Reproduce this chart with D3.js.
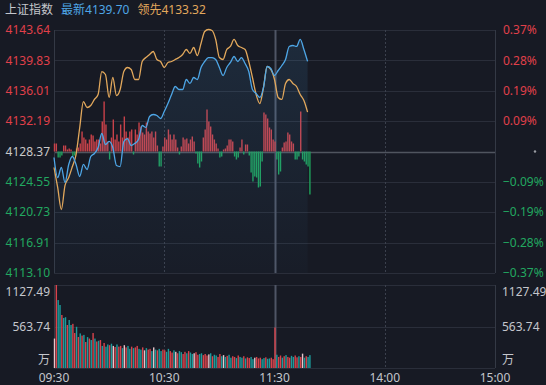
<!DOCTYPE html>
<html>
<head>
<meta charset="utf-8">
<script src="https://cdn.jsdelivr.net/npm/d3@7"></script>
<style>
    html, body { margin: 0; padding: 0; background: #171a24; }
    svg { display: block; font-family: "Noto Sans", "Noto Sans CJK SC", sans-serif; }
</style>
</head>
<body>
<div id="chart"></div>
<script>
// DATA
const basePrice = 4128.37;
const priceTicks = [4143.64, 4139.83, 4136.01, 4132.19, 4128.37, 4124.55, 4120.73, 4116.91, 4113.10];
const volTicks = [1127.49, 563.74];
const timeTicks = [[0, "09:30"], [60, "10:30"], [120, "11:30"], [180, "14:00"], [240, "15:00"]];

// 2분 간격 (09:30 부터)
const latestPrice = [
    4127.62, 4125.10, 4126.36, 4124.47, 4126.74, 4127.74, 4126.74, 4125.23, 4126.74, 4126.11,
    4127.74, 4128.12, 4128.87, 4130.63, 4129.25, 4129.63, 4128.87, 4126.61, 4126.48, 4129.63,
    4130.00, 4129.12, 4129.38, 4129.88, 4131.64, 4131.39, 4132.77, 4133.02, 4132.89, 4132.52,
    4133.40, 4134.40, 4135.53, 4136.54, 4136.16, 4136.16, 4137.42, 4136.92, 4137.67, 4137.42,
    4138.93, 4139.68, 4140.18, 4140.18, 4139.93, 4138.93, 4137.92, 4138.93, 4139.56, 4140.31,
    4139.68, 4140.18, 4139.43, 4138.42, 4136.16, 4135.66, 4135.16, 4136.41, 4139.05, 4138.80,
    4137.92, 4138.55, 4139.18, 4139.93, 4141.57, 4141.69, 4141.57, 4142.45, 4141.19, 4139.70
];
const leadPrice = [
    4126.36, 4123.85, 4121.08, 4124.10, 4125.10, 4126.48, 4127.99, 4131.39, 4134.65, 4133.90,
    4134.15, 4134.91, 4135.53, 4138.42, 4138.05, 4135.16, 4137.67, 4135.41, 4136.16, 4138.42,
    4138.93, 4138.68, 4137.42, 4137.42, 4139.68, 4140.18, 4140.56, 4140.94, 4139.93, 4139.68,
    4138.93, 4139.56, 4139.68, 4139.93, 4140.18, 4140.56, 4141.19, 4140.69, 4141.44, 4140.43,
    4141.94, 4143.45, 4143.70, 4143.58, 4142.45, 4140.18, 4139.93, 4141.19, 4141.57, 4142.45,
    4141.69, 4141.44, 4141.19, 4139.68, 4137.67, 4135.53, 4134.40, 4136.41, 4139.05, 4138.68,
    4137.42, 4135.16, 4134.91, 4136.92, 4137.42, 4136.92, 4136.54, 4135.53, 4134.78, 4133.32
];

// 1분 간격
const strength = [
    8, 8, -6, -6, -4, 6, 6, 2, 3, 2, -5, -4, 3, 4, 8, 20, 14, 12, 8, 12,
    17, 16, 10, 12, 12, 8, 30, 50, 27, 10, -8, 14, 32, 12, 17, 10, 27, 14, 35, 20,
    14, 20, 22, -3, 22, 17, 29, 25, 19, 17, 29, 20, 18, 20, 14, 20, 6, -15, -15, 5,
    14, 12, 22, 17, 12, 17, 12, 4, -3, 5, 14, 12, 13, 8, 12, 15, 10, -2, -12, -16,
    -10, 14, 22, 42, 30, 25, 17, 12, 8, 3, -6, -5, 2, 3, 6, 12, 12, 10, -5, -8,
    -6, 4, 12, -3, 7, 7, -4, -21, -30, -25, -26, -36, -35, -10, 39, 37, 33, 24, 22, 12,
    10, -8, -23, -20, 4, 9, 10, 19, 17, 10, 8, -8, -8, -5, 40, -8, -10, -13, -15, -43
];
const volume = [
    400, 1127.49, 923, 856, 720, 680, 690, 584, 652, 584, 600, 475, 560, 421, 470, 440, 450, 353, 420, 400,
    380, 475, 400, 360, 370, 380, 300, 340, 290, 320, 310, 330, 300, 285, 320, 290, 300, 270, 310, 280,
    300, 260, 290, 270, 280, 300, 260, 250, 280, 240, 270, 250, 260, 230, 280, 250, 240, 260, 230, 250,
    240, 220, 260, 230, 210, 240, 220, 200, 230, 215, 190, 220, 200, 230, 210, 190, 200, 215, 180, 190,
    200, 175, 190, 170, 185, 200, 160, 180, 170, 150, 190, 160, 175, 150, 165, 180, 140, 160, 150, 135,
    170, 150, 140, 160, 130, 145, 135, 150, 120, 140, 150, 130, 140, 120, 135, 145, 125, 130, 140, 120,
    550, 180, 150, 170, 140, 160, 175, 150, 140, 165, 150, 170, 145, 160, 150, 195, 140, 160, 150, 175
];
const volumeDir = [
    0, 1, -1, -1, 1, -1, -1, 1, -1, -1, 1, 1, -1, 1, -1, 1, -1, 1, -1, 1,
    -1, 1, -1, 1, -1, 1, -1, 1, -1, -1, 1, -1, 0, 1, -1, 1, 1, -1, 0, 1,
    -1, -1, 1, -1, 1, 1, -1, -1, 1, 0, -1, 1, 1, -1, 0, -1, 1, -1, -1, 1,
    1, -1, -1, 1, 1, -1, 0, 1, -1, -1, 1, 1, -1, 1, -1, -1, 0, 1, 1, -1,
    -1, 1, 1, 1, 0, -1, 1, -1, -1, 1, 1, -1, 0, -1, 1, -1, -1, 1, 1, -1,
    1, -1, -1, 1, -1, 1, 1, -1, -1, 0, 1, 1, 1, -1, -1, 1, -1, -1, 1, 1,
    1, -1, 1, 1, -1, 1, -1, 1, 1, -1, -1, 1, 1, -1, 1, 0, -1, 1, -1, -1
];

// LAYOUT
const width = 546;
const height = 385;
const plot = { left: 54, right: 495, top: 30, bottom: 273 };
const vol = { top: 285, bottom: 368 };

const COLOR = {
    grid: "#2a2e3a",
    frame: "#343945",
    up: "#e0404a",
    down: "#22a860",
    base: "#c9c9c9",
    blue: "#4ea6e6",
    orange: "#e2a85c",
    volUp: "#d9434c",
    volDown: "#1d9c9c",
    volFlat: "#e6c6cc",
    text: "#c4c6cc"
};

const svg = d3.select("#chart")
    .append("svg")
    .attr("width", width)
    .attr("height", height);

svg.append("rect")
    .attr("width", width)
    .attr("height", height)
    .attr("fill", "#171a24");

// SCALES
const x = d3.scaleLinear().domain([0, 240]).range([plot.left, plot.right]);
const y = d3.scaleLinear().domain([priceTicks[8], priceTicks[0]]).range([plot.bottom, plot.top]);
const yBar = d3.scaleLinear().domain([-121.5, 121.5]).range([plot.bottom, plot.top]);
const yVol = d3.scaleLinear().domain([0, volTicks[0]]).range([vol.bottom, vol.top]);

// GRID
svg.selectAll(".hgrid")
    .data(priceTicks)
    .enter()
    .append("line")
    .attr("x1", plot.left)
    .attr("x2", plot.right)
    .attr("y1", d => Math.round(y(d)) + 0.5)
    .attr("y2", d => Math.round(y(d)) + 0.5)
    .attr("stroke", d => d === basePrice ? "#50555f" : COLOR.grid)
    .attr("stroke-width", d => d === basePrice ? 1.5 : 1);

svg.selectAll(".vgrid")
    .data([0, 240])
    .enter()
    .append("line")
    .attr("x1", d => Math.round(x(d)) + 0.5)
    .attr("x2", d => Math.round(x(d)) + 0.5)
    .attr("y1", plot.top)
    .attr("y2", plot.bottom)
    .attr("stroke", COLOR.frame);

// 볼륨 영역 그리드
svg.selectAll(".volgrid")
    .data([volTicks[0], volTicks[1], 0])
    .enter()
    .append("line")
    .attr("x1", plot.left)
    .attr("x2", plot.right)
    .attr("y1", d => Math.round(yVol(d)) + 0.5)
    .attr("y2", d => Math.round(yVol(d)) + 0.5)
    .attr("stroke", COLOR.grid);

svg.selectAll(".volvgrid")
    .data([0, 240])
    .enter()
    .append("line")
    .attr("x1", d => Math.round(x(d)) + 0.5)
    .attr("x2", d => Math.round(x(d)) + 0.5)
    .attr("y1", vol.top)
    .attr("y2", vol.bottom)
    .attr("stroke", COLOR.frame);

// 시간 구분선
[[60, true], [180, true], [120, false]].forEach(([m, dashed]) => {
    [[plot.top, plot.bottom], [vol.top, vol.bottom]].forEach(([t, b]) => {
        svg.append("line")
            .attr("x1", Math.round(x(m)) + 0.5)
            .attr("x2", Math.round(x(m)) + 0.5)
            .attr("y1", t)
            .attr("y2", b)
            .attr("stroke", dashed ? "#3b404d" : "#4f5565")
            .attr("stroke-width", dashed ? 1 : 2)
            .attr("stroke-dasharray", dashed ? "2,2" : null);
    });
});

// STRENGTH BARS
svg.append("g")
    .selectAll("rect")
    .data(strength)
    .enter()
    .append("rect")
    .attr("x", (d, i) => x(i) - 0.2)
    .attr("width", 1.4)
    .attr("y", d => d > 0 ? yBar(d) : yBar(0))
    .attr("height", d => Math.abs(yBar(d) - yBar(0)))
    .attr("fill", d => d > 0 ? "#c8424a" : "#1f9f5c");

// AREA + LINES
const area = d3.area()
    .x((d, i) => x(i * 2))
    .y0(plot.bottom)
    .y1(d => y(d))
    .curve(d3.curveMonotoneX);

const grad = svg.append("defs")
    .append("linearGradient")
    .attr("id", "blueFill")
    .attr("x1", 0).attr("y1", 0).attr("x2", 0).attr("y2", 1);
grad.append("stop").attr("offset", "0%").attr("stop-color", "#4ea6e6").attr("stop-opacity", 0.12);
grad.append("stop").attr("offset", "100%").attr("stop-color", "#4ea6e6").attr("stop-opacity", 0.02);

svg.append("path")
    .datum(latestPrice)
    .attr("d", area)
    .attr("fill", "url(#blueFill)");

const line = d3.line()
    .x((d, i) => x(i * 2))
    .y(d => y(d))
    .curve(d3.curveMonotoneX);

svg.append("path")
    .datum(leadPrice)
    .attr("d", line)
    .attr("fill", "none")
    .attr("stroke", COLOR.orange)
    .attr("stroke-width", 1.3);

svg.append("path")
    .datum(latestPrice)
    .attr("d", line)
    .attr("fill", "none")
    .attr("stroke", COLOR.blue)
    .attr("stroke-width", 1.3);

// VOLUME BARS
svg.append("g")
    .selectAll("rect")
    .data(volume)
    .enter()
    .append("rect")
    .attr("x", (d, i) => x(i) - 0.2)
    .attr("width", 1.4)
    .attr("y", d => yVol(d))
    .attr("height", d => yVol(0) - yVol(d))
    .attr("fill", (d, i) => volumeDir[i] > 0 ? COLOR.volUp : volumeDir[i] < 0 ? COLOR.volDown : COLOR.volFlat);

// AXIS LABELS
const pctFormat = d3.format(".2f");
const labelColor = d => d > basePrice ? COLOR.up : d < basePrice ? COLOR.down : COLOR.base;

svg.selectAll(".ylabel")
    .data(priceTicks)
    .enter()
    .append("text")
    .attr("x", 50)
    .attr("y", d => y(d))
    .attr("dy", "0.35em")
    .attr("text-anchor", "end")
    .attr("font-size", 12)
    .attr("fill", labelColor)
    .text(d => d.toFixed(2));

svg.selectAll(".pctlabel")
    .data(priceTicks.filter(d => d !== basePrice))
    .enter()
    .append("text")
    .attr("x", 503)
    .attr("y", d => y(d))
    .attr("dy", "0.35em")
    .attr("font-size", 12)
    .attr("fill", labelColor)
    .text(d => pctFormat((d - basePrice) / basePrice * 100) + "%");

svg.append("circle")
    .attr("cx", 535)
    .attr("cy", y(basePrice))
    .attr("r", 1.2)
    .attr("fill", "#9a9ca3");

const volLabels = [[volTicks[0], yVol(volTicks[0]) + 7], [volTicks[1], yVol(volTicks[1])]];
volLabels.forEach(([v, ly]) => {
    svg.append("text")
        .attr("x", 50).attr("y", ly).attr("dy", "0.35em")
        .attr("text-anchor", "end")
        .attr("font-size", 12)
        .attr("fill", COLOR.text)
        .text(v.toFixed(2));
    svg.append("text")
        .attr("x", 502).attr("y", ly).attr("dy", "0.35em")
        .attr("font-size", 12)
        .attr("fill", COLOR.text)
        .text(v.toFixed(2));
});

[50, 502].forEach((lx, i) => {
    svg.append("text")
        .attr("x", lx).attr("y", 360).attr("dy", "0.35em")
        .attr("text-anchor", i === 0 ? "end" : "start")
        .attr("font-size", 12)
        .attr("fill", COLOR.text)
        .text("万");
});

svg.selectAll(".xlabel")
    .data(timeTicks)
    .enter()
    .append("text")
    .attr("x", d => x(d[0]))
    .attr("y", 378)
    .attr("dy", "0.35em")
    .attr("text-anchor", "middle")
    .attr("font-size", 12)
    .attr("fill", COLOR.text)
    .text(d => d[1]);

// HEADER
const header = svg.append("text")
    .attr("x", 5)
    .attr("y", 14)
    .attr("font-size", 12);
header.append("tspan").attr("fill", COLOR.text).text("上证指数");
header.append("tspan").attr("dx", 8).attr("fill", COLOR.blue).text("最新" + latestPrice[latestPrice.length - 1].toFixed(2));
header.append("tspan").attr("dx", 8).attr("fill", COLOR.orange).text("领先" + leadPrice[leadPrice.length - 1].toFixed(2));
</script>
</body>
</html>
